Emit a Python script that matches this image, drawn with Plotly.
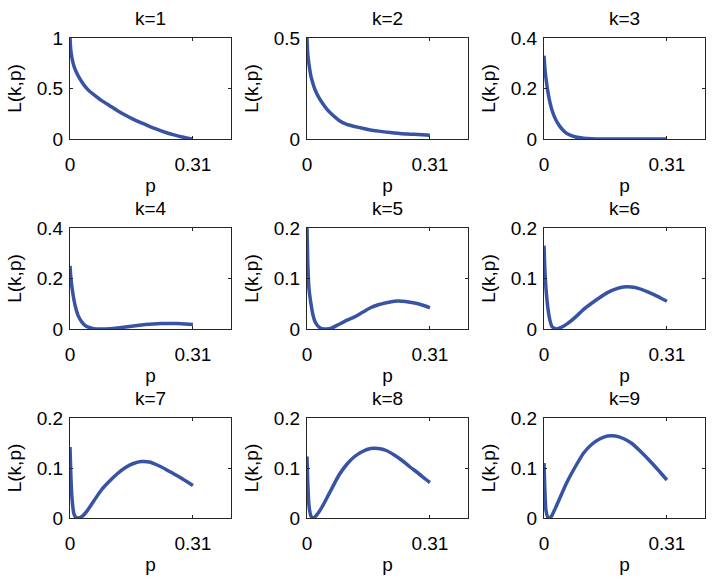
import plotly.graph_objects as go

# Shared p grid
p = [0, 0.002, 0.005, 0.01, 0.015, 0.02, 0.03, 0.04, 0.05, 0.06, 0.08, 0.1,
     0.12, 0.14, 0.16, 0.18, 0.2, 0.22, 0.24, 0.26, 0.28, 0.3, 0.31]

L1 = [1.0, 0.88, 0.8, 0.72, 0.67, 0.63, 0.565, 0.51, 0.47, 0.44, 0.38, 0.33,
      0.28, 0.235, 0.195, 0.16, 0.125, 0.095, 0.067, 0.043, 0.022, 0.006, 0.0]
L2 = [0.5, 0.42, 0.37, 0.31, 0.275, 0.245, 0.205, 0.175, 0.148, 0.127, 0.093, 0.072,
      0.062, 0.053, 0.045, 0.039, 0.034, 0.03, 0.026, 0.024, 0.022, 0.02, 0.019]
L3 = [0.33, 0.285, 0.24, 0.185, 0.145, 0.115, 0.075, 0.05, 0.032, 0.02, 0.008, 0.003,
      0.001, 0.0, 0.0, 0.0, 0.0, 0.0, 0.0, 0.0, 0.0, 0.0, 0.0]
L4 = [0.25, 0.205, 0.165, 0.115, 0.08, 0.055, 0.027, 0.012, 0.005, 0.001, 0.0, 0.001,
      0.004, 0.008, 0.012, 0.016, 0.019, 0.021, 0.022, 0.022, 0.021, 0.019, 0.018]
L5 = [0.2, 0.13, 0.08, 0.05, 0.028, 0.015, 0.004, 0.0, 0.0, 0.001, 0.009, 0.017,
      0.024, 0.033, 0.042, 0.048, 0.052, 0.055, 0.055, 0.053, 0.05, 0.045, 0.042]
L6 = [0.165, 0.12, 0.08, 0.04, 0.017, 0.005, 0.0, 0.002, 0.006, 0.011, 0.024, 0.039,
      0.051, 0.062, 0.072, 0.079, 0.083, 0.083, 0.08, 0.074, 0.067, 0.059, 0.055]
L7 = [0.142, 0.09, 0.04, 0.008, 0.001, 0.0, 0.003, 0.011, 0.022, 0.034, 0.057, 0.074,
      0.089, 0.101, 0.109, 0.113, 0.112, 0.106, 0.098, 0.089, 0.08, 0.07, 0.065]
L8 = [0.123, 0.07, 0.025, 0.004, 0.0, 0.002, 0.012, 0.025, 0.04, 0.055, 0.085, 0.107,
      0.123, 0.133, 0.139, 0.139, 0.135, 0.126, 0.115, 0.102, 0.09, 0.077, 0.071]
L9 = [0.11, 0.06, 0.015, 0.001, 0.0, 0.005, 0.022, 0.04, 0.058, 0.075, 0.104, 0.13,
      0.147, 0.158, 0.164, 0.164, 0.159, 0.15, 0.136, 0.12, 0.103, 0.085, 0.076]

series = [L1, L2, L3, L4, L5, L6, L7, L8, L9]
titles = ["k=%d" % k for k in range(1, 10)]
y_ranges = [[0, 1], [0, 0.5], [0, 0.4], [0, 0.4], [0, 0.2], [0, 0.2], [0, 0.2], [0, 0.2], [0, 0.2]]
y_ticks = [[0, 0.5, 1], [0, 0.5], [0, 0.2, 0.4], [0, 0.2, 0.4],
           [0, 0.1, 0.2], [0, 0.1, 0.2], [0, 0.1, 0.2], [0, 0.1, 0.2], [0, 0.1, 0.2]]
y_ticklabels = [["0", "0.5", "1"], ["0", "0.5"], ["0", "0.2", "0.4"], ["0", "0.2", "0.4"],
                ["0", "0.1", "0.2"], ["0", "0.1", "0.2"], ["0", "0.1", "0.2"],
                ["0", "0.1", "0.2"], ["0", "0.1", "0.2"]]
x_ticks = [0, 0.31]
x_ticklabels = ["0", "0.31"]
x_range = [0, 0.406]

W, H = 714, 580
col_px = [(70, 231), (307, 468), (544, 705)]
row_px = [(38, 139), (228, 329), (418, 518)]

FONT = "Liberation Sans, Arial, Helvetica, sans-serif"
AX_COLOR = "#262626"
LINE_COLOR = "#3953a4"
FS = 19

fig = go.Figure()
layout = dict(
    width=W, height=H,
    margin=dict(l=0, r=0, t=0, b=0, autoexpand=False),
    paper_bgcolor="white", plot_bgcolor="white",
    showlegend=False,
    font=dict(family=FONT, size=FS, color="black"),
)
annotations = []
for i in range(9):
    r, c = divmod(i, 3)
    n = "" if i == 0 else str(i + 1)
    x0, x1 = col_px[c]
    y0, y1 = row_px[r]
    fig.add_trace(go.Scatter(
        x=p, y=series[i], mode="lines",
        line=dict(color=LINE_COLOR, width=3.5, shape="spline", smoothing=0.5),
        xaxis="x" + n, yaxis="y" + n, hoverinfo="skip",
    ))
    common = dict(showline=True, linecolor=AX_COLOR, linewidth=1, mirror="ticks",
                  ticks="inside", ticklen=3, tickcolor=AX_COLOR, showgrid=False,
                  zeroline=False, automargin=False,
                  tickfont=dict(size=FS, color="black"))
    layout["xaxis" + n] = dict(
        domain=[x0 / W, x1 / W], anchor="y" + n, range=x_range,
        tickvals=x_ticks, ticktext=x_ticklabels, ticklabelstandoff=8,
        title=dict(text="p", standoff=4, font=dict(size=FS)),
        **common)
    layout["yaxis" + n] = dict(
        domain=[1 - y1 / H, 1 - y0 / H], anchor="x" + n, range=y_ranges[i],
        tickvals=y_ticks[i], ticktext=y_ticklabels[i], ticklabelstandoff=2,
        title=dict(text="L(k,p)", standoff=10, font=dict(size=FS)),
        **common)
    annotations.append(dict(
        text=titles[i], x=(x0 + x1) / 2 / W, y=1 - (y0 - 7) / H,
        xref="paper", yref="paper", showarrow=False,
        xanchor="center", yanchor="bottom", font=dict(size=FS, color="black")))
layout["annotations"] = annotations
fig.update_layout(**layout)
fig.write_html("out.html", config={"displayModeBar": False},
               post_script="document.body.style.margin='0';document.body.style.padding='0';")
